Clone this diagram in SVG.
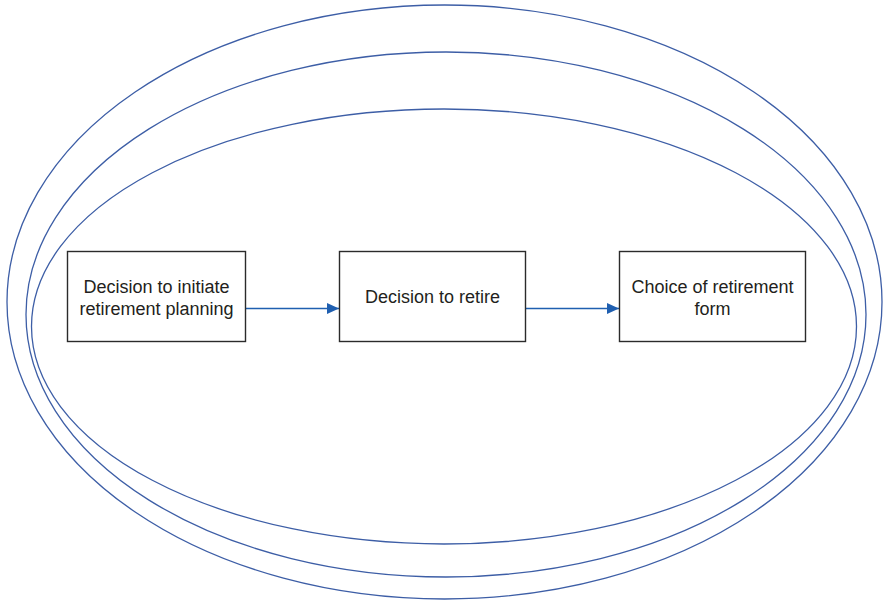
<svg xmlns="http://www.w3.org/2000/svg" width="883" height="601" viewBox="0 0 883 601">
  <style>
    .ring { fill: none; stroke: #3d5ea6; stroke-width: 1.3; }
    .box { fill: #ffffff; stroke: #2b2b2b; stroke-width: 1.4; }
    .label { font-family: "Liberation Sans", Arial, sans-serif; font-size: 18px; fill: #231f20; text-anchor: middle; }
    .link { stroke: #1f5fb0; stroke-width: 1.4; fill: none; marker-end: url(#arrow); }
  </style>
  <defs>
    <marker id="arrow" viewBox="0 0 12 11" refX="12" refY="5.5" markerWidth="12" markerHeight="11" markerUnits="userSpaceOnUse" orient="auto">
      <path d="M0,0 L12,5.5 L0,11 Z" fill="#1f5fb0"/>
    </marker>
  </defs>
  <rect width="883" height="601" fill="#ffffff"/>

  <!-- nested context rings -->
  <g id="rings">
    <ellipse class="ring" cx="444.5" cy="302" rx="437.5" ry="297"/>
    <ellipse class="ring" cx="446" cy="314.5" rx="420" ry="262.5"/>
    <ellipse class="ring" cx="444" cy="326.5" rx="412.5" ry="217.5"/>
  </g>

  <g id="connectors">
    <line class="link" x1="245.5" y1="308.5" x2="339" y2="308.5"/>
    <line class="link" x1="525.5" y1="308.5" x2="619" y2="308.5"/>
  </g>

  <g id="node-initiate">
    <rect class="box" x="67.5" y="251.5" width="178" height="90"/>
    <text class="label" x="156.5" y="293">Decision to initiate</text>
    <text class="label" x="156.5" y="315">retirement planning</text>
  </g>

  <g id="node-retire">
    <rect class="box" x="339.5" y="251.5" width="186" height="90"/>
    <text class="label" x="432.5" y="303">Decision to retire</text>
  </g>

  <g id="node-form">
    <rect class="box" x="619.5" y="251.5" width="186" height="90"/>
    <text class="label" x="712.5" y="293">Choice of retirement</text>
    <text class="label" x="712.5" y="315">form</text>
  </g>
</svg>
